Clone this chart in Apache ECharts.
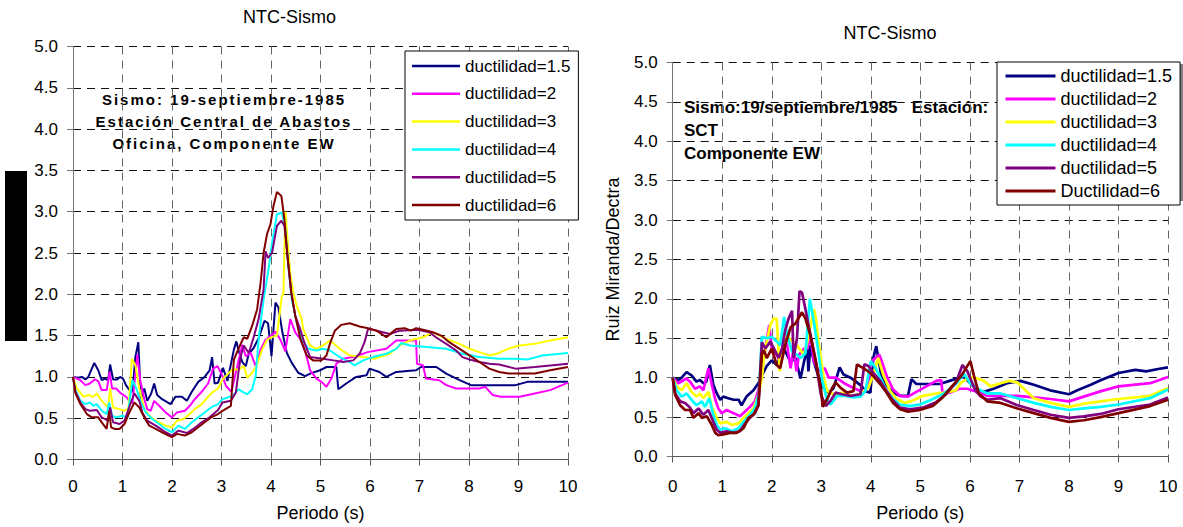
<!DOCTYPE html>
<html>
<head>
<meta charset="utf-8">
<script src="https://cdn.jsdelivr.net/npm/echarts@6/dist/echarts.min.js"></script>
<style>
  html, body { margin: 0; padding: 0; background: #fff; }
  #chart { width: 1183px; height: 527px; }
</style>
</head>
<body>
<div id="chart"></div>
<script>
// Spectral ratios NTC / earthquake, 19 Sept 1985, EW component.
// Each array holds [period (s), ratio] pairs.

const namesAbastos = ['ductilidad=1.5', 'ductilidad=2', 'ductilidad=3', 'ductilidad=4', 'ductilidad=5', 'ductilidad=6'];
const namesSCT = ['ductilidad=1.5', 'ductilidad=2', 'ductilidad=3', 'ductilidad=4', 'ductilidad=5', 'Ductilidad=6'];
const lineColors = ['#000080', '#FF00FF', '#FFFF00', '#00FFFF', '#800080', '#800000'];

// Estación Central de Abastos, Oficina
const cab15 = [[0,1.0],[0.1,0.99],[0.18,1.0],[0.25,0.97],[0.31,1.0],[0.43,1.17],[0.51,1.08],[0.58,0.96],[0.64,0.98],[0.71,0.96],[0.75,1.15],[0.81,0.97],[0.89,0.97],[0.95,1.0],[1.01,0.98],[1.07,0.9],[1.14,0.84],[1.2,0.82],[1.26,1.24],[1.32,1.42],[1.37,0.73],[1.44,0.86],[1.5,0.71],[1.58,0.8],[1.64,0.92],[1.7,0.78],[1.8,0.73],[1.97,0.67],[2.07,0.76],[2.2,0.76],[2.3,0.71],[2.4,0.82],[2.53,0.94],[2.66,1.0],[2.76,1.08],[2.81,1.24],[2.86,0.92],[2.93,0.93],[3.03,1.11],[3.12,0.95],[3.25,1.33],[3.3,1.43],[3.35,1.31],[3.42,1.18],[3.49,1.13],[3.55,1.28],[3.65,1.35],[3.75,1.47],[3.87,1.68],[3.94,1.65],[4.01,1.25],[4.09,1.9],[4.15,1.84],[4.23,1.54],[4.32,1.29],[4.42,1.17],[4.55,1.05],[4.69,1.01],[4.79,1.04],[4.99,1.08],[5.12,1.12],[5.32,1.12],[5.36,0.85],[5.52,0.92],[5.72,1.0],[5.93,1.02],[5.99,1.1],[6.19,1.06],[6.33,1.0],[6.53,1.06],[6.93,1.08],[7.03,1.12],[7.34,1.12],[7.54,1.04],[7.81,0.96],[8.04,0.9],[8.41,0.9],[8.94,0.9],[9.18,0.94],[10,0.94]];
const cab2 = [[0,1.0],[0.15,0.96],[0.25,0.9],[0.34,0.92],[0.44,0.97],[0.51,0.95],[0.58,0.84],[0.68,0.84],[0.74,1.06],[0.79,0.86],[0.87,0.86],[0.97,0.8],[1.07,0.76],[1.14,0.71],[1.2,0.68],[1.3,1.27],[1.36,0.95],[1.44,0.73],[1.5,0.61],[1.57,0.59],[1.64,0.71],[1.74,0.65],[1.87,0.57],[2.0,0.51],[2.1,0.57],[2.26,0.59],[2.36,0.65],[2.46,0.73],[2.6,0.82],[2.73,0.92],[2.83,1.1],[2.92,1.13],[3.02,1.01],[3.09,0.89],[3.2,0.82],[3.35,1.21],[3.42,1.39],[3.49,1.25],[3.59,1.29],[3.69,1.13],[3.79,1.33],[3.89,1.45],[4.02,1.51],[4.09,1.55],[4.19,1.45],[4.29,1.31],[4.39,1.7],[4.49,1.54],[4.59,1.46],[4.69,1.31],[4.79,1.08],[4.92,0.98],[5.02,0.94],[5.12,0.88],[5.22,0.98],[5.32,1.16],[5.46,1.22],[5.72,1.25],[5.95,1.3],[6.33,1.34],[6.53,1.44],[6.93,1.44],[6.95,1.16],[7.07,1.14],[7.13,0.98],[7.4,0.96],[7.54,0.9],[7.74,0.86],[8.21,0.86],[8.33,0.88],[8.48,0.78],[8.64,0.76],[9.02,0.76],[9.33,0.8],[9.64,0.84],[10,0.93]];
const cab3 = [[0,1.0],[0.08,0.86],[0.21,0.76],[0.31,0.78],[0.41,0.76],[0.48,0.8],[0.58,0.71],[0.71,0.63],[0.75,0.86],[0.81,0.63],[0.94,0.61],[1.04,0.59],[1.12,0.62],[1.19,1.22],[1.26,1.14],[1.34,0.86],[1.44,0.61],[1.54,0.53],[1.64,0.48],[1.74,0.45],[1.87,0.41],[2.0,0.39],[2.1,0.47],[2.23,0.49],[2.36,0.55],[2.46,0.61],[2.6,0.67],[2.73,0.76],[2.83,0.82],[2.93,0.86],[3.02,0.97],[3.22,1.09],[3.35,1.09],[3.45,1.13],[3.52,0.99],[3.62,1.05],[3.72,1.15],[3.82,1.33],[3.92,1.45],[4.05,1.49],[4.12,1.5],[4.22,1.98],[4.25,2.0],[4.29,3.0],[4.35,2.54],[4.39,2.26],[4.45,2.02],[4.52,1.86],[4.62,1.7],[4.65,1.58],[4.79,1.38],[4.92,1.34],[5.05,1.38],[5.19,1.44],[5.39,1.34],[5.59,1.26],[5.86,1.24],[6.09,1.22],[6.4,1.28],[6.6,1.38],[6.8,1.44],[7.07,1.48],[7.27,1.54],[7.54,1.46],[7.81,1.4],[8.01,1.34],[8.21,1.3],[8.41,1.26],[8.56,1.28],[8.79,1.34],[9.02,1.38],[9.33,1.4],[9.64,1.44],[10,1.48]];
const cab4 = [[0,1.0],[0.05,0.84],[0.15,0.71],[0.25,0.67],[0.34,0.69],[0.41,0.65],[0.48,0.67],[0.58,0.59],[0.68,0.55],[0.73,0.69],[0.79,0.53],[0.87,0.51],[1.0,0.53],[1.1,0.51],[1.2,0.96],[1.28,0.86],[1.37,0.69],[1.47,0.57],[1.6,0.49],[1.74,0.43],[1.87,0.37],[2.0,0.33],[2.13,0.41],[2.26,0.37],[2.4,0.45],[2.53,0.51],[2.66,0.57],[2.79,0.63],[2.93,0.67],[3.02,0.73],[3.22,0.77],[3.35,0.85],[3.45,0.81],[3.52,0.79],[3.62,0.85],[3.69,1.01],[3.75,1.46],[3.85,1.94],[3.95,2.3],[4.02,2.62],[4.12,2.97],[4.22,2.99],[4.29,2.79],[4.35,2.34],[4.42,1.94],[4.52,1.66],[4.62,1.46],[4.75,1.34],[4.92,1.32],[5.05,1.34],[5.19,1.32],[5.39,1.24],[5.59,1.18],[5.69,1.14],[5.86,1.2],[6.06,1.24],[6.33,1.28],[6.53,1.34],[6.63,1.41],[6.8,1.38],[7.2,1.36],[7.54,1.34],[7.87,1.28],[8.21,1.24],[8.61,1.22],[8.94,1.22],[9.18,1.21],[9.48,1.26],[10,1.29]];
const cab5 = [[0,1.0],[0.05,0.82],[0.15,0.69],[0.25,0.61],[0.34,0.59],[0.48,0.6],[0.58,0.51],[0.71,0.47],[0.75,0.63],[0.81,0.45],[0.94,0.43],[1.04,0.47],[1.17,0.69],[1.24,0.8],[1.34,0.71],[1.4,0.57],[1.5,0.47],[1.67,0.41],[1.77,0.37],[1.87,0.33],[2.0,0.29],[2.13,0.35],[2.3,0.32],[2.43,0.37],[2.6,0.45],[2.76,0.51],[2.93,0.6],[3.02,0.69],[3.19,0.71],[3.29,0.81],[3.35,1.09],[3.39,1.25],[3.45,1.38],[3.55,1.29],[3.65,1.48],[3.75,1.7],[3.85,2.06],[3.89,2.52],[3.94,2.44],[4.02,2.5],[4.12,2.83],[4.21,2.89],[4.27,2.83],[4.34,2.42],[4.41,2.02],[4.49,1.74],[4.59,1.58],[4.67,1.42],[4.79,1.24],[5.05,1.22],[5.26,1.2],[5.46,1.18],[5.66,1.2],[5.79,1.28],[5.89,1.42],[5.96,1.58],[6.06,1.57],[6.4,1.52],[6.6,1.56],[6.97,1.57],[7.2,1.54],[7.33,1.48],[7.54,1.4],[7.74,1.32],[7.87,1.24],[8.01,1.21],[8.21,1.18],[8.41,1.16],[8.61,1.15],[8.94,1.1],[9.33,1.12],[10,1.16]];
const cab6 = [[0,1.0],[0.05,0.8],[0.15,0.67],[0.28,0.55],[0.38,0.51],[0.51,0.51],[0.58,0.45],[0.68,0.37],[0.73,0.59],[0.77,0.39],[0.84,0.37],[0.94,0.37],[1.04,0.43],[1.14,0.57],[1.24,0.69],[1.34,0.63],[1.44,0.51],[1.54,0.41],[1.67,0.37],[1.8,0.33],[1.93,0.29],[2.0,0.27],[2.1,0.31],[2.26,0.29],[2.4,0.33],[2.53,0.39],[2.66,0.45],[2.79,0.51],[2.93,0.55],[3.02,0.59],[3.19,0.65],[3.25,1.21],[3.35,1.35],[3.45,1.48],[3.52,1.46],[3.62,1.62],[3.72,1.82],[3.79,2.14],[3.85,2.5],[3.92,2.73],[3.99,2.85],[4.05,3.07],[4.12,3.24],[4.21,3.19],[4.27,2.91],[4.34,2.42],[4.41,2.02],[4.49,1.74],[4.59,1.47],[4.72,1.26],[4.85,1.2],[5.02,1.2],[5.12,1.26],[5.19,1.4],[5.29,1.56],[5.42,1.63],[5.59,1.65],[5.79,1.61],[5.96,1.59],[6.13,1.56],[6.23,1.52],[6.33,1.48],[6.43,1.53],[6.53,1.58],[6.7,1.59],[6.83,1.56],[6.93,1.59],[7.07,1.57],[7.27,1.54],[7.44,1.5],[7.6,1.42],[7.81,1.34],[8.01,1.26],[8.21,1.18],[8.41,1.1],[8.61,1.06],[8.8,1.04],[9.33,1.04],[9.64,1.08],[10,1.12]];

// Estación SCT
const sct15 = [[0,1.0],[0.11,0.97],[0.18,1.0],[0.28,1.07],[0.38,1.03],[0.48,0.95],[0.55,0.97],[0.62,0.93],[0.68,0.95],[0.75,1.16],[0.82,0.91],[0.89,0.8],[0.96,0.72],[1.02,0.76],[1.12,0.74],[1.23,0.72],[1.33,0.72],[1.39,0.65],[1.49,0.76],[1.63,0.84],[1.73,0.93],[1.8,1.03],[1.9,1.15],[2.0,1.22],[2.1,1.16],[2.24,1.37],[2.31,1.29],[2.38,1.2],[2.48,1.25],[2.58,0.99],[2.65,1.2],[2.72,1.37],[2.74,1.08],[2.78,1.41],[2.85,1.2],[2.95,1.0],[3.05,0.87],[3.15,0.81],[3.25,0.87],[3.37,1.13],[3.45,1.04],[3.59,1.0],[3.72,0.94],[3.82,0.89],[3.89,0.83],[3.99,0.81],[4.05,1.25],[4.11,1.4],[4.15,1.25],[4.22,1.0],[4.32,0.9],[4.45,0.81],[4.59,0.77],[4.75,0.77],[4.82,0.98],[4.92,0.92],[5.05,0.92],[5.39,0.92],[5.59,0.96],[5.74,0.99],[5.88,1.01],[6.01,0.93],[6.15,0.84],[6.28,0.82],[6.48,0.86],[6.75,0.93],[7.02,0.96],[7.29,0.91],[7.62,0.84],[8.0,0.79],[8.17,0.84],[8.44,0.91],[8.65,0.97],[9.0,1.06],[9.34,1.1],[9.56,1.08],[9.8,1.11],[10,1.13]];
const sct2 = [[0,1.0],[0.11,0.93],[0.28,0.99],[0.35,0.95],[0.45,0.86],[0.55,0.89],[0.62,0.84],[0.72,1.12],[0.79,0.91],[0.86,0.72],[0.92,0.61],[0.99,0.55],[1.09,0.59],[1.23,0.55],[1.36,0.51],[1.46,0.57],[1.56,0.63],[1.66,0.7],[1.76,0.91],[1.87,1.37],[1.95,1.67],[2.0,1.37],[2.1,1.29],[2.17,1.2],[2.24,1.5],[2.31,1.41],[2.38,1.12],[2.44,1.37],[2.5,1.08],[2.55,1.29],[2.65,1.37],[2.72,1.37],[2.78,1.54],[2.85,1.21],[2.95,1.08],[3.07,1.12],[3.15,1.0],[3.3,1.0],[3.49,0.92],[3.65,0.87],[3.79,0.83],[3.92,0.85],[4.02,1.21],[4.09,1.25],[4.17,1.29],[4.22,1.21],[4.32,1.02],[4.45,0.85],[4.59,0.77],[4.75,0.76],[4.92,0.82],[5.12,0.89],[5.32,0.96],[5.42,0.97],[5.45,0.79],[5.59,0.81],[5.79,0.86],[5.95,0.86],[6.15,0.82],[6.35,0.77],[6.62,0.77],[6.96,0.77],[7.29,0.75],[7.63,0.73],[8.0,0.7],[8.3,0.76],[8.65,0.83],[9.0,0.89],[9.64,0.93],[10,1.01]];
const sct3 = [[0,1.0],[0.08,0.89],[0.18,0.84],[0.28,0.93],[0.38,0.82],[0.48,0.76],[0.55,0.8],[0.62,0.74],[0.72,0.82],[0.79,0.63],[0.89,0.49],[0.96,0.42],[1.09,0.44],[1.19,0.4],[1.33,0.42],[1.43,0.49],[1.53,0.55],[1.63,0.61],[1.73,0.78],[1.8,0.99],[1.85,1.3],[1.97,1.67],[2.04,1.75],[2.1,1.75],[2.16,1.08],[2.21,1.33],[2.27,1.58],[2.35,1.5],[2.51,1.41],[2.65,1.29],[2.72,1.46],[2.85,1.87],[2.89,1.76],[2.95,1.42],[3.05,1.0],[3.12,0.83],[3.25,0.79],[3.45,0.81],[3.65,0.77],[3.82,0.81],[3.95,0.87],[4.05,1.04],[4.15,1.25],[4.25,1.04],[4.39,0.83],[4.52,0.73],[4.69,0.68],[4.85,0.71],[5.05,0.77],[5.32,0.8],[5.52,0.81],[5.72,0.84],[5.81,0.93],[6.0,1.01],[6.15,0.99],[6.28,0.96],[6.42,0.89],[6.62,0.93],[6.79,0.96],[6.96,0.94],[7.12,0.84],[7.29,0.74],[7.63,0.68],[8.0,0.63],[8.3,0.67],[8.64,0.7],[9.0,0.73],[9.64,0.77],[10,0.87]];
const sct4 = [[0,1.0],[0.08,0.84],[0.18,0.76],[0.28,0.8],[0.38,0.72],[0.48,0.65],[0.59,0.7],[0.65,0.63],[0.74,0.74],[0.81,0.55],[0.89,0.4],[0.96,0.34],[1.06,0.36],[1.19,0.32],[1.33,0.36],[1.43,0.44],[1.56,0.53],[1.66,0.61],[1.74,0.8],[1.8,1.52],[1.9,1.5],[2.0,1.52],[2.1,1.46],[2.17,1.41],[2.25,1.77],[2.31,1.54],[2.41,1.33],[2.51,1.29],[2.58,1.25],[2.68,1.31],[2.77,2.0],[2.85,1.71],[2.92,1.42],[3.02,0.96],[3.12,0.71],[3.19,0.66],[3.32,0.77],[3.49,0.77],[3.65,0.75],[3.79,0.76],[3.89,0.83],[4.0,1.21],[4.09,1.13],[4.19,1.0],[4.32,0.83],[4.45,0.73],[4.59,0.66],[4.79,0.64],[4.99,0.66],[5.19,0.71],[5.45,0.79],[5.72,0.92],[5.88,1.05],[6.01,0.93],[6.15,0.86],[6.35,0.8],[6.62,0.8],[6.96,0.74],[7.29,0.68],[7.63,0.63],[8.0,0.59],[8.3,0.61],[8.64,0.63],[9.0,0.66],[9.64,0.74],[10,0.85]];
const sct5 = [[0,1.0],[0.05,0.8],[0.15,0.7],[0.25,0.68],[0.35,0.62],[0.42,0.55],[0.52,0.61],[0.62,0.53],[0.72,0.59],[0.82,0.44],[0.89,0.34],[0.96,0.3],[1.09,0.32],[1.23,0.3],[1.36,0.32],[1.46,0.42],[1.56,0.49],[1.66,0.55],[1.73,0.65],[1.8,1.45],[1.87,1.37],[1.97,1.46],[2.06,1.35],[2.14,1.25],[2.21,1.37],[2.27,1.6],[2.34,1.75],[2.41,1.85],[2.44,1.25],[2.51,1.5],[2.56,2.1],[2.61,2.08],[2.68,1.87],[2.77,1.58],[2.89,1.21],[2.99,0.79],[3.09,0.64],[3.19,0.71],[3.29,0.81],[3.42,0.79],[3.59,0.77],[3.79,0.79],[3.87,1.17],[3.95,1.15],[4.05,1.06],[4.19,0.96],[4.32,0.83],[4.45,0.71],[4.59,0.62],[4.79,0.6],[5.05,0.62],[5.32,0.69],[5.52,0.79],[5.72,0.94],[5.85,1.16],[5.95,1.08],[6.01,0.99],[6.11,0.84],[6.22,0.76],[6.35,0.72],[6.62,0.74],[6.96,0.65],[7.29,0.59],[7.63,0.53],[8.0,0.49],[8.3,0.51],[8.64,0.54],[9.0,0.6],[9.64,0.66],[10,0.75]];
const sct6 = [[0,1.0],[0.05,0.78],[0.15,0.65],[0.25,0.59],[0.35,0.59],[0.42,0.49],[0.52,0.55],[0.59,0.49],[0.69,0.51],[0.79,0.4],[0.86,0.3],[0.92,0.27],[1.02,0.28],[1.16,0.3],[1.29,0.3],[1.43,0.36],[1.53,0.49],[1.63,0.53],[1.73,0.65],[1.8,1.3],[1.84,1.35],[1.9,1.25],[2.0,1.37],[2.1,1.16],[2.17,1.12],[2.27,1.41],[2.38,1.64],[2.48,1.69],[2.61,1.83],[2.68,1.75],[2.78,1.54],[2.89,1.2],[2.99,0.87],[3.03,0.63],[3.12,0.73],[3.22,0.87],[3.29,0.94],[3.39,0.87],[3.52,0.81],[3.65,0.83],[3.72,1.17],[3.82,1.13],[3.95,1.08],[4.05,1.02],[4.19,0.92],[4.32,0.81],[4.45,0.68],[4.59,0.6],[4.75,0.57],[4.99,0.59],[5.25,0.64],[5.45,0.75],[5.65,0.9],[5.81,1.01],[6.01,1.21],[6.08,1.03],[6.18,0.8],[6.35,0.7],[6.62,0.68],[6.96,0.61],[7.29,0.55],[7.63,0.49],[8.0,0.44],[8.3,0.46],[8.64,0.5],[9.0,0.55],[9.64,0.64],[10,0.72]];

const abastosSeries = [cab15, cab2, cab3, cab4, cab5, cab6];
const sctSeries = [sct15, sct2, sct3, sct4, sct5, sct6];

const FONT = '"Liberation Sans", Arial, sans-serif';

function xAxisFor(gridIndex, labelMargin, nameGap) {
  return {
    type: 'value', gridIndex, min: 0, max: 10, interval: 1,
    name: 'Periodo (s)', nameLocation: 'middle', nameGap,
    nameTextStyle: { fontSize: 18, fontFamily: FONT, color: '#000' },
    axisLine: { lineStyle: { color: '#555', width: 1 } },
    axisTick: { show: true, inside: false, length: 6, lineStyle: { color: '#555' } },
    axisLabel: { fontSize: 17, fontFamily: FONT, color: '#000', margin: labelMargin },
    splitLine: { show: true, lineStyle: { color: '#666', type: [8, 6], width: 1 } }
  };
}
function yAxisFor(gridIndex, extra) {
  return Object.assign({
    type: 'value', gridIndex, min: 0, max: 5, interval: 0.5,
    axisLine: { show: true, lineStyle: { color: '#777', width: 1 } },
    axisTick: { show: true, inside: false, length: 6, lineStyle: { color: '#777' } },
    axisLabel: { fontSize: 17, fontFamily: FONT, color: '#000', margin: 15,
      formatter: v => v.toFixed(1) },
    splitLine: { show: true, lineStyle: { color: '#111', type: [8, 6], width: 1 } }
  }, extra || {});
}

function buildSeries(list, names, axis, width) {
  return list.map((d, i) => ({
    type: 'line', name: names[i], data: d,
    xAxisIndex: axis, yAxisIndex: axis,
    symbol: 'none', showSymbol: false,
    lineStyle: { color: lineColors[i], width },
    itemStyle: { color: lineColors[i] },
    emphasis: { disabled: true }
  }));
}

const option = {
  animation: false,
  backgroundColor: '#fff',
  grid: [
    { left: 73, top: 46.5, width: 495, height: 415 },
    { left: 672.7, top: 62.5, width: 495.3, height: 396 }
  ],
  xAxis: [ xAxisFor(0, 18, 44.5), xAxisFor(1, 21, 47.5) ],
  yAxis: [
    yAxisFor(0),
    yAxisFor(1, {
      name: 'Ruiz Miranda/Dectra', nameLocation: 'middle', nameGap: 51, nameRotate: 90,
      nameTextStyle: { fontSize: 18, fontFamily: FONT, color: '#000' }
    })
  ],
  legend: [
    {
      data: namesAbastos, orient: 'vertical', left: 405, top: 51,
      icon: 'rect', itemWidth: 48, itemHeight: 2.5, itemGap: 10.8,
      padding: [6.5, 8, 6.5, 7],
      backgroundColor: '#fff', borderColor: '#000', borderWidth: 1,
      textStyle: { fontSize: 17, lineHeight: 17, fontFamily: FONT, color: '#000' },
      selectedMode: false
    },
    {
      data: namesSCT, orient: 'vertical', left: 997, top: 62,
      icon: 'rect', itemWidth: 50, itemHeight: 3, itemGap: 5,
      padding: [5, 8, 5, 8.5],
      backgroundColor: '#fff', borderColor: '#000', borderWidth: 1,
      textStyle: { fontSize: 18, lineHeight: 17, fontFamily: FONT, color: '#000' },
      selectedMode: false
    }
  ],
  graphic: [
    { type: 'text', x: 289.5, y: 17, style: { text: 'NTC-Sismo', textAlign: 'center', textVerticalAlign: 'middle', fontSize: 18, fontFamily: FONT, fill: '#000' } },
    { type: 'text', x: 890, y: 33, style: { text: 'NTC-Sismo', textAlign: 'center', textVerticalAlign: 'middle', fontSize: 18, fontFamily: FONT, fill: '#000' } },
    { type: 'text', x: 224, y: 99, style: { text: 'Sismo: 19-septiembre-1985', textAlign: 'center', textVerticalAlign: 'middle', fontSize: 15, fontWeight: 'bold', fontFamily: FONT, fill: '#000' } },
    { type: 'text', x: 224, y: 121, style: { text: 'Estación Central de Abastos', textAlign: 'center', textVerticalAlign: 'middle', fontSize: 15, fontWeight: 'bold', fontFamily: FONT, fill: '#000' } },
    { type: 'text', x: 224, y: 143, style: { text: 'Oficina, Componente EW', textAlign: 'center', textVerticalAlign: 'middle', fontSize: 15, fontWeight: 'bold', fontFamily: FONT, fill: '#000' } },
    { type: 'text', x: 684, y: 107, style: { text: 'Sismo:19/septiembre/1985   Estación:', textAlign: 'left', textVerticalAlign: 'middle', fontSize: 17, fontWeight: 'bold', fontFamily: FONT, fill: '#000' } },
    { type: 'text', x: 684, y: 130, style: { text: 'SCT', textAlign: 'left', textVerticalAlign: 'middle', fontSize: 17, fontWeight: 'bold', fontFamily: FONT, fill: '#000' } },
    { type: 'text', x: 684, y: 153, style: { text: 'Componente EW', textAlign: 'left', textVerticalAlign: 'middle', fontSize: 17, fontWeight: 'bold', fontFamily: FONT, fill: '#000' } },
    { type: 'rect', z: 1, shape: { x: 5, y: 171, width: 22, height: 170 }, style: { fill: '#000' } },
    { type: 'rect', z: 1, shape: { x: 999, y: 64, width: 184, height: 137 }, style: { fill: '#808080' } }
  ],
  series: buildSeries(abastosSeries, namesAbastos, 0, 2).concat(buildSeries(sctSeries, namesSCT, 1, 2.7))
};

const chart = echarts.init(document.getElementById('chart'), null, { renderer: 'svg' });
chart.setOption(option);

// Spread the letters of the Abastos annotation lines.
const spacedLines = ['Sismo: 19-septiembre-1985', 'Estación Central de Abastos', 'Oficina, Componente EW'];
document.querySelectorAll('#chart text').forEach(t => {
  if (spacedLines.indexOf(t.textContent) >= 0) t.setAttribute('letter-spacing', '2px');
});
</script>
</body>
</html>
